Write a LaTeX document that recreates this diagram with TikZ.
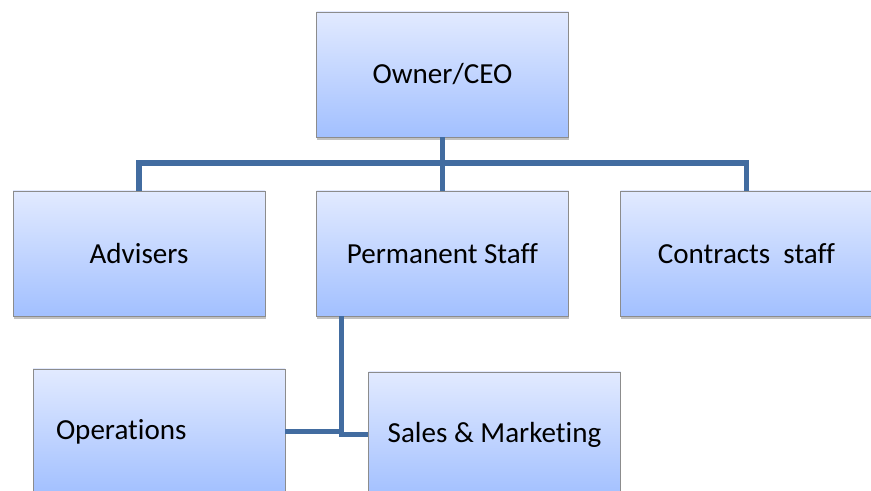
\documentclass[tikz,border=0pt]{standalone}
\usepackage{fontspec}
\setmainfont{Carlito}[Ligatures={NoCommon}]
\usetikzlibrary{shadows}
\definecolor{boxtop}{RGB}{226,234,255}
\definecolor{boxbot}{RGB}{162,192,255}
\definecolor{boxline}{RGB}{140,140,140}
\definecolor{linkblue}{RGB}{66,108,160}
\begin{document}
\begin{tikzpicture}[x=0.75pt,y=-0.75pt,
	unit/.style={draw=boxline, line width=0.6pt, top color=boxtop, bottom color=boxbot,
		minimum width=189pt, minimum height=93.75pt, inner sep=0pt,
		font=\fontsize{21.8}{26}\selectfont,
		drop shadow={shadow xshift=0.6pt, shadow yshift=-2.2pt, opacity=0.35, fill=black!70}},
	link/.style={draw=linkblue, line width=3.8pt}]
	\useasboundingbox (0,0) rectangle (871,491);
	\clip (0,0) rectangle (871,491);
	
	\coordinate (bus) at (442,163);
	
	\node[unit] (ceo) at (442.5,74.5) {Owner/CEO};
	
	\node[unit] (adv) at (139,253.5) {Advisers};
	\node[unit] (perm) at (442.5,253.5) {Permanent Staff};
	\node[unit] (cont) at (746.5,253.5) {Contracts~~staff};
	
	\node[unit, text width=154.5pt, inner xsep=17.25pt, align=left] (ops) at (159,431.5) {Operations};
	\node[unit] (sales) at (494.5,434.5) {Sales \& Marketing};
	
	\coordinate (drop) at ([xshift=18.75pt]perm.south west);
	
	\draw[link] (ceo) -- (perm);
	\draw[link] (adv.north) |- (bus) -| (cont.north);
	
	\draw[link] (drop) |- (ops.east);
	\draw[link] (drop) |- (sales.west);
	
\end{tikzpicture}
\end{document}
